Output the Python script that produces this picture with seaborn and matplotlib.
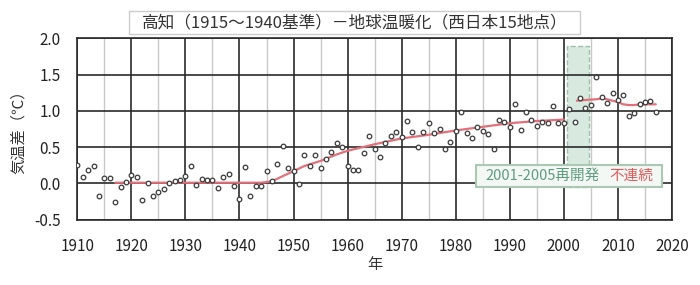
import matplotlib
matplotlib.use("Agg")
import matplotlib.pyplot as plt
from matplotlib.patches import Rectangle
from matplotlib.ticker import MultipleLocator
import seaborn as sns
import pandas as pd

years = list(range(1910, 2018))
anomaly = [
    0.25, 0.09, 0.18, 0.24, -0.17, 0.08, 0.07, -0.26, -0.05, 0.02,   # 1910-1919
    0.12, 0.09, -0.23, 0.01, -0.17, -0.12, -0.08, 0.01, 0.04, 0.05,  # 1920-1929
    0.10, 0.24, -0.02, 0.06, 0.05, 0.05, -0.06, 0.09, 0.13, -0.04,   # 1930-1939
    -0.21, 0.22, -0.18, -0.04, -0.03, 0.17, 0.03, 0.27, 0.51, 0.21,  # 1940-1949
    0.17, -0.01, 0.39, 0.24, 0.39, 0.21, 0.33, 0.43, 0.56, 0.50,     # 1950-1959
    0.24, 0.19, 0.19, 0.42, 0.66, 0.48, 0.37, 0.56, 0.65, 0.71,      # 1960-1969
    0.64, 0.86, 0.71, 0.50, 0.71, 0.83, 0.69, 0.75, 0.48, 0.57,      # 1970-1979
    0.72, 0.98, 0.69, 0.63, 0.78, 0.72, 0.68, 0.48, 0.87, 0.85,      # 1980-1989
    0.78, 1.09, 0.73, 0.98, 0.87, 0.79, 0.85, 0.83, 1.07, 0.83,      # 1990-1999
    0.83, 1.03, 0.84, 1.18, 1.04, 1.08, 1.46, 1.19, 1.11, 1.25,      # 2000-2009
    1.15, 1.22, 0.93, 0.97, 1.09, 1.12, 1.13, 0.99,                  # 2010-2017
]

trend1_years = [1917, 1920, 1925, 1930, 1935, 1940, 1944, 1946, 1948, 1950, 1952,
                1955, 1958, 1960, 1965, 1970, 1975, 1980, 1985, 1990, 1995, 2000]
trend1_vals = [0.01, 0.01, 0.01, 0.01, 0.01, 0.01, 0.01, 0.03, 0.10, 0.17, 0.24,
               0.31, 0.40, 0.45, 0.54, 0.62, 0.67, 0.73, 0.78, 0.83, 0.86, 0.88]

trend2_years = [2002.4, 2004, 2006, 2007, 2008, 2009, 2010, 2011, 2012, 2013, 2014, 2015, 2016, 2017]
trend2_vals = [1.14, 1.15, 1.16, 1.17, 1.16, 1.14, 1.12, 1.09, 1.08, 1.08, 1.09, 1.09, 1.09, 1.09]

title = "高知（1915～1940基準）－地球温暖化（西日本15地点）"
xlabel = "年"
ylabel = "気温差（℃）"
note_green = "2001-2005再開発"
note_red = "不連続"

sns.set_theme(style="white")
plt.rcParams['font.family'] = ['Noto Sans CJK JP', 'DejaVu Sans']

fig = plt.figure(figsize=(7.0, 2.85), dpi=100)
ax = fig.add_axes([77.3 / 700, 1 - 219.7 / 285, (672 - 77.3) / 700, (219.7 - 38.3) / 285])

df = pd.DataFrame({"year": years, "anomaly": anomaly})
t1 = pd.DataFrame({"year": trend1_years, "val": trend1_vals})
t2 = pd.DataFrame({"year": trend2_years, "val": trend2_vals})

ax.set_xlim(1910, 2020)
ax.set_ylim(-0.5, 2.0)

# grid
ax.xaxis.set_major_locator(MultipleLocator(10))
ax.xaxis.set_minor_locator(MultipleLocator(5))
ax.yaxis.set_major_locator(MultipleLocator(0.5))
ax.grid(which='minor', axis='x', color='#c8c8c8', lw=1.0, zorder=1)
ax.grid(which='major', axis='both', color='#2a2a2a', lw=1.2, zorder=1)
ax.set_axisbelow(True)

# shaded redevelopment band
ax.add_patch(Rectangle((2000.5, -0.05), 4.2, 1.95, facecolor='#d8eadf', edgecolor='#9fbfaa',
                       lw=1.0, ls='--', zorder=0.5))

sns.lineplot(data=t1, x="year", y="val", ax=ax, color='#e2707a', lw=1.6, zorder=3, estimator=None, sort=False)
sns.lineplot(data=t2, x="year", y="val", ax=ax, color='#e2707a', lw=1.6, zorder=3, estimator=None, sort=False)
sns.scatterplot(data=df, x="year", y="anomaly", ax=ax, marker='o', s=11,
                facecolor='white', edgecolor='#3a3a3a', linewidth=0.9, zorder=4)

# note box
ax.add_patch(Rectangle((1983.7, -0.05), 34.5, 0.30, facecolor='#f4f8f4', edgecolor='#a9c9b3',
                       lw=1.5, zorder=5))
ax.text(1996.1, 0.10, note_green, color='#5e9c80', fontsize=10.5, ha='center', va='center', zorder=6)
ax.text(2012.4, 0.10, note_red, color='#e05a5a', fontsize=10.5, ha='center', va='center', zorder=6)

for s in ax.spines.values():
    s.set_color('#2a2a2a')
    s.set_linewidth(1.2)

ax.set_xticks(range(1910, 2021, 10))
ax.set_xticklabels([str(y) for y in range(1910, 2021, 10)])
ax.set_yticks([-0.5, 0.0, 0.5, 1.0, 1.5, 2.0])
ax.set_yticklabels(["-0.5", "0.0", "0.5", "1.0", "1.5", "2.0"])
ax.tick_params(axis='x', which='both', length=0, pad=13, labelsize=11, labelcolor='#222222')
ax.tick_params(axis='y', which='both', length=0, pad=12, labelsize=11, labelcolor='#222222')
ax.set_xlabel("")
ax.set_ylabel("")

fig.text(375 / 700, 1 - 265 / 285, xlabel, ha='center', va='center', fontsize=11, color='#333333')
fig.text(18 / 700, 1 - 128 / 285, ylabel, ha='center', va='center', rotation=90, fontsize=11, color='#333333')
fig.patches.append(Rectangle((129 / 700, 1 - 34 / 285), (580 - 129) / 700, 23 / 285,
                             transform=fig.transFigure, facecolor='white', edgecolor='#cccccc', lw=1.0))
fig.text(355 / 700, 1 - 22.5 / 285, title, ha='center', va='center', fontsize=12, color='#333333')

fig.savefig("out.png", dpi=100, facecolor='white')
